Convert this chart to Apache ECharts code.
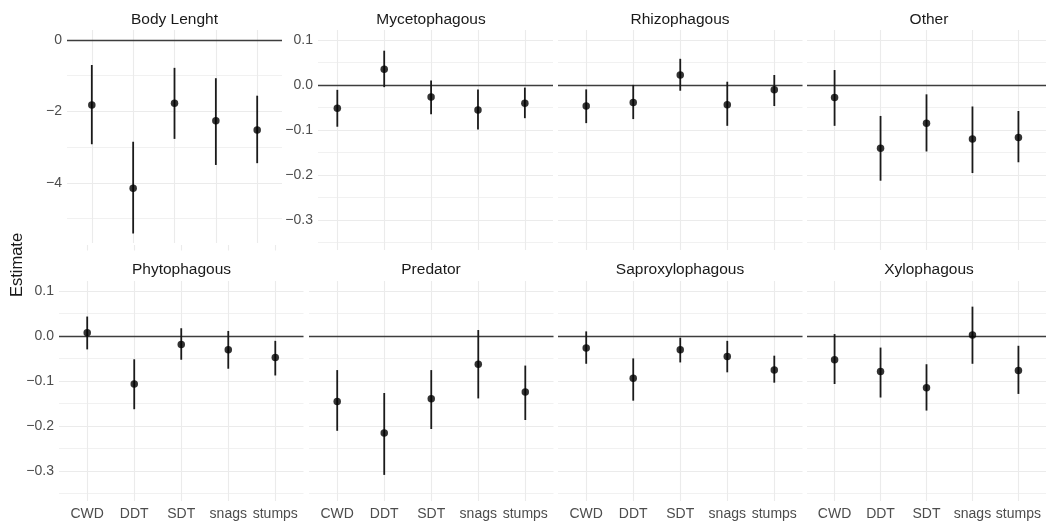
<!DOCTYPE html>
<html>
<head>
<meta charset="utf-8">
<script src="https://cdn.jsdelivr.net/npm/echarts@6/dist/echarts.min.js"></script>
<style>
html, body { margin: 0; padding: 0; background: #fff; }
#chart { width: 1046px; height: 522px; }
</style>
</head>
<body>
<div id="chart"></div>
<script>
var categories = ["CWD", "DDT", "SDT", "snags", "stumps"];
var panelNames = ["Body Lenght", "Mycetophagous", "Rhizophagous", "Other",
    "Phytophagous", "Predator", "Saproxylophagous", "Xylophagous"];

// estimate, lower and upper bound for each panel
var bodyEst = [-1.82, -4.15, -1.77, -2.26, -2.52];
var bodyLow = [-2.92, -5.42, -2.77, -3.50, -3.45];
var bodyUp = [-0.70, -2.85, -0.78, -1.07, -1.56];

var mycEst = [-0.052, 0.035, -0.027, -0.056, -0.041];
var mycLow = [-0.093, -0.005, -0.065, -0.099, -0.074];
var mycUp = [-0.011, 0.076, 0.010, -0.010, -0.006];

var rhiEst = [-0.047, -0.039, 0.022, -0.044, -0.011];
var rhiLow = [-0.085, -0.076, -0.013, -0.091, -0.047];
var rhiUp = [-0.010, 0.000, 0.058, 0.007, 0.022];

var othEst = [-0.028, -0.141, -0.085, -0.120, -0.117];
var othLow = [-0.091, -0.213, -0.148, -0.196, -0.172];
var othUp = [0.033, -0.069, -0.021, -0.048, -0.058];

var phyEst = [0.007, -0.107, -0.019, -0.031, -0.048];
var phyLow = [-0.030, -0.163, -0.053, -0.073, -0.088];
var phyUp = [0.043, -0.052, 0.017, 0.011, -0.011];

var preEst = [-0.146, -0.216, -0.140, -0.063, -0.125];
var preLow = [-0.211, -0.309, -0.207, -0.139, -0.187];
var preUp = [-0.076, -0.127, -0.076, 0.013, -0.066];

var sapEst = [-0.027, -0.094, -0.031, -0.046, -0.076];
var sapLow = [-0.062, -0.144, -0.059, -0.081, -0.104];
var sapUp = [0.010, -0.050, -0.004, -0.011, -0.044];

var xylEst = [-0.053, -0.079, -0.115, 0.002, -0.077];
var xylLow = [-0.107, -0.137, -0.166, -0.062, -0.129];
var xylUp = [0.004, -0.026, -0.063, 0.065, -0.022];

var estimates = [bodyEst, mycEst, rhiEst, othEst, phyEst, preEst, sapEst, xylEst];
var lowers = [bodyLow, mycLow, rhiLow, othLow, phyLow, preLow, sapLow, xylLow];
var uppers = [bodyUp, mycUp, rhiUp, othUp, phyUp, preUp, sapUp, xylUp];

var sharedTicks = [0.1, 0, -0.1, -0.2, -0.3];
var sharedMinor = [0.05, -0.05, -0.15, -0.25, -0.35];
var bodyTicks = [0, -2, -4];
var bodyMinor = [-1, -3, -5];

// left, top, width, height, xmin, xmax, ymin, ymax
// index 8: strip of the facet panel peeking out under the Body Lenght plot
var layout = [
    [67, 30, 215, 213, 0.4, 5.6, -5.686, 0.28],
    [318, 30, 235, 220, 0.588, 5.6, -0.367, 0.122],
    [558, 30, 244.5, 220, 0.4, 5.6, -0.367, 0.122],
    [807, 30, 244.5, 220, 0.4, 5.6, -0.367, 0.122],
    [59, 281, 244.5, 220, 0.4, 5.6, -0.367, 0.122],
    [309, 281, 244.5, 220, 0.4, 5.6, -0.367, 0.122],
    [558, 281, 244.5, 220, 0.4, 5.6, -0.367, 0.122],
    [807, 281, 244.5, 220, 0.4, 5.6, -0.367, 0.122],
    [59, 245, 244.5, 5.5, 0.4, 5.6, 0, 1]
];
var titleCenters = [[174.5, 20], [431, 20], [680, 20], [929, 20],
    [181.5, 270], [431, 270], [680, 270], [929, 270]];

var FONT = "'Liberation Sans', Arial, sans-serif";
var gridColor = "#ebebeb";

function fmtShared(v) {
    return v.toFixed(1).replace("-", "\u2212");
}
function fmtBody(v) {
    return String(Math.round(v)).replace("-", "\u2212");
}

var grids = [], xAxes = [], yAxes = [], series = [], graphics = [];

layout.forEach(function (l, i) {
    var isBody = i === 0;
    var isStrip = i === 8;
    grids.push({ left: l[0], top: l[1], width: l[2], height: l[3], containLabel: false });
    xAxes.push({
        type: "value", gridIndex: i, min: l[4], max: l[5],
        axisLine: { show: false }, axisTick: { show: false }, splitLine: { show: false },
        axisLabel: {
            show: i >= 4 && i <= 7,
            customValues: [1, 2, 3, 4, 5],
            formatter: function (v) { return categories[Math.round(v) - 1]; },
            color: "#4d4d4d", fontSize: 14, fontFamily: FONT, margin: 6
        }
    });
    yAxes.push({
        type: "value", gridIndex: i, min: l[6], max: l[7],
        axisLine: { show: false }, axisTick: { show: false }, splitLine: { show: false },
        axisLabel: {
            show: i === 0 || i === 1 || i === 4,
            customValues: isBody ? bodyTicks : sharedTicks,
            formatter: isBody ? fmtBody : fmtShared,
            color: "#4d4d4d", fontSize: 14, fontFamily: FONT, margin: 5
        }
    });

    // grid lines and the zero reference line
    var lines = [];
    categories.forEach(function (c, k) {
        lines.push({ xAxis: k + 1, lineStyle: { color: gridColor, width: 1.1, type: "solid" } });
    });
    if (!isStrip) {
        (isBody ? bodyMinor : sharedMinor).forEach(function (v) {
            lines.push({ yAxis: v, lineStyle: { color: gridColor, width: 0.7, type: "solid" } });
        });
        (isBody ? bodyTicks : sharedTicks).forEach(function (v) {
            lines.push({ yAxis: v, lineStyle: { color: gridColor, width: 1.1, type: "solid" } });
        });
        lines.push({ yAxis: 0, lineStyle: { color: "#3d3d3d", width: 1.4, type: "solid" } });
    }
    series.push({
        type: "line", xAxisIndex: i, yAxisIndex: i, data: [], z: 1,
        silent: true,
        markLine: {
            z: 1, silent: true, symbol: ["none", "none"], label: { show: false },
            emphasis: { disabled: true }, animation: false, data: lines
        }
    });

    if (isStrip) return;

    series.push({
        type: "custom", xAxisIndex: i, yAxisIndex: i, z: 3, silent: true,
        encode: { x: 0, y: [1, 2] },
        data: categories.map(function (c, k) { return [k + 1, lowers[i][k], uppers[i][k]]; }),
        renderItem: function (params, api) {
            var a = api.coord([api.value(0), api.value(1)]);
            var b = api.coord([api.value(0), api.value(2)]);
            return {
                type: "line",
                shape: { x1: a[0], y1: a[1], x2: b[0], y2: b[1] },
                style: { stroke: "#1a1a1a", lineWidth: 1.8 }
            };
        }
    });
    series.push({
        type: "scatter", xAxisIndex: i, yAxisIndex: i, z: 4, silent: true,
        symbolSize: 7.5, itemStyle: { color: "#000" },
        data: categories.map(function (c, k) { return [k + 1, estimates[i][k]]; })
    });

    graphics.push({
        type: "text", x: titleCenters[i][0], y: titleCenters[i][1], z: 10,
        style: {
            text: panelNames[i], fill: "#1a1a1a", fontSize: 15.5, fontFamily: FONT,
            align: "center", verticalAlign: "middle",
            textAlign: "center", textVerticalAlign: "middle"
        }
    });
});

graphics.push({
    type: "text", x: 17.5, y: 265, rotation: Math.PI / 2, z: 10,
    style: {
        text: "Estimate", fill: "#1a1a1a", fontSize: 16.5, fontFamily: FONT,
        align: "center", verticalAlign: "middle",
        textAlign: "center", textVerticalAlign: "middle"
    }
});

var chart = echarts.init(document.getElementById("chart"), null, { renderer: "canvas" });
chart.setOption({
    backgroundColor: "#fff",
    animation: false,
    grid: grids,
    xAxis: xAxes,
    yAxis: yAxes,
    series: series,
    graphic: graphics
});
</script>
</body>
</html>
